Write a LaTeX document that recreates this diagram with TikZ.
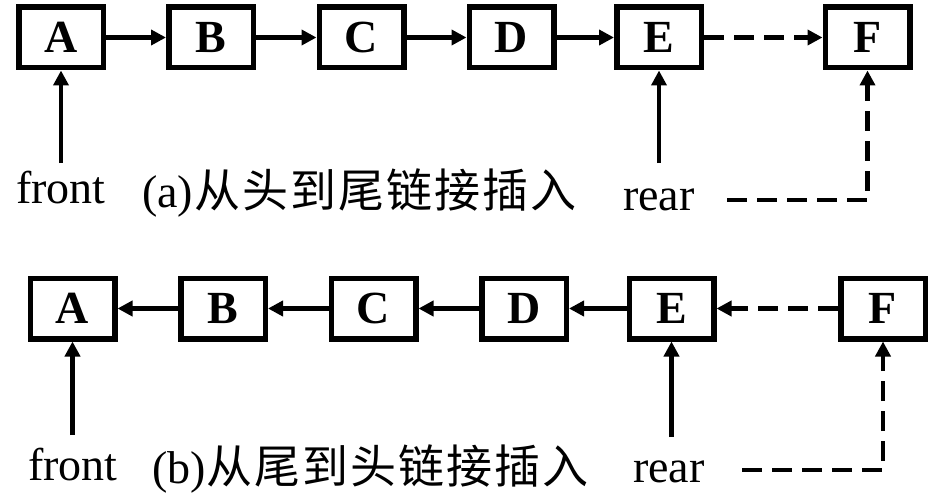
\documentclass[tikz,border=0pt]{standalone}
\usepackage{fontspec}
\setmainfont{Liberation Serif}
\newfontfamily\cjkfont{Noto Sans CJK SC}
\usetikzlibrary{arrows.meta}
\newcommand{\cjc}[1]{\makebox[48pt][c]{\cjkfont\fontsize{46}{50}\selectfont #1}}
\tikzset{
  x=1pt, y=-1pt,
  cell/.style={draw, line width=5.5pt, minimum width=84.5pt, minimum height=60.5pt,
    inner sep=0pt, font=\fontsize{46}{50}\selectfont\bfseries},
  link/.style={line width=4.5pt, -{Triangle[length=15pt,width=15pt]}},
  dlink/.style={link, dash pattern=on 20pt off 10pt},
  lbl/.style={anchor=base west, inner sep=0pt, font=\fontsize{46}{50}\selectfont},
}
\begin{document}
\begin{tikzpicture}
\useasboundingbox (0,0) rectangle (932,503);
% ---- (a) ----
\node[cell] (A) at (61,37.5) {A};
\node[cell] (B) at (211,37.5) {B};
\node[cell] (C) at (361.5,37.5) {C};
\node[cell] (D) at (511.5,37.5) {D};
\node[cell] (E) at (659,37.5) {E};
\node[cell] (F) at (867.5,37.5) {F};
\draw[link] (A) -- (B);
\draw[link] (B) -- (C);
\draw[link] (C) -- (D);
\draw[link] (D) -- (E);
\draw[dlink] (E) -- (F);
\node[lbl] (fronta) at (16,203) {front};
\node[lbl] (capa) at (142,207) {(a)\cjc{从}\cjc{头}\cjc{到}\cjc{尾}\cjc{链}\cjc{接}\cjc{插}\cjc{入}};
\node[lbl] (reara) at (623,210) {rear};
\coordinate (fa) at (61,163);
\coordinate (ra) at (659,163);
\coordinate (da) at (727,200);
\draw[link] (fa) -- (A.south);
\draw[link] (ra) -- (E.south);
\draw[dlink] (da) -| (F.south);
% ---- (b) ----
\node[cell] (A2) at (72.5,308.5) {A};
\node[cell] (B2) at (223,308.5) {B};
\node[cell] (C2) at (373.5,308.5) {C};
\node[cell] (D2) at (524,308.5) {D};
\node[cell] (E2) at (671.5,308.5) {E};
\node[cell] (F2) at (883,308.5) {F};
\draw[link] (B2) -- (A2);
\draw[link] (C2) -- (B2);
\draw[link] (D2) -- (C2);
\draw[link] (E2) -- (D2);
\draw[dlink] (F2) -- (E2);
\node[lbl] (frontb) at (28,480) {front};
\node[lbl] (capb) at (152,483) {(b)\cjc{从}\cjc{尾}\cjc{到}\cjc{头}\cjc{链}\cjc{接}\cjc{插}\cjc{入}};
\node[lbl] (rearb) at (633,482) {rear};
\coordinate (fb) at (72.5,435);
\coordinate (rb) at (671.5,437);
\coordinate (db) at (742,470);
\draw[link] (fb) -- (A2.south);
\draw[link] (rb) -- (E2.south);
\draw[dlink] (db) -| (F2.south);
\end{tikzpicture}
\end{document}
